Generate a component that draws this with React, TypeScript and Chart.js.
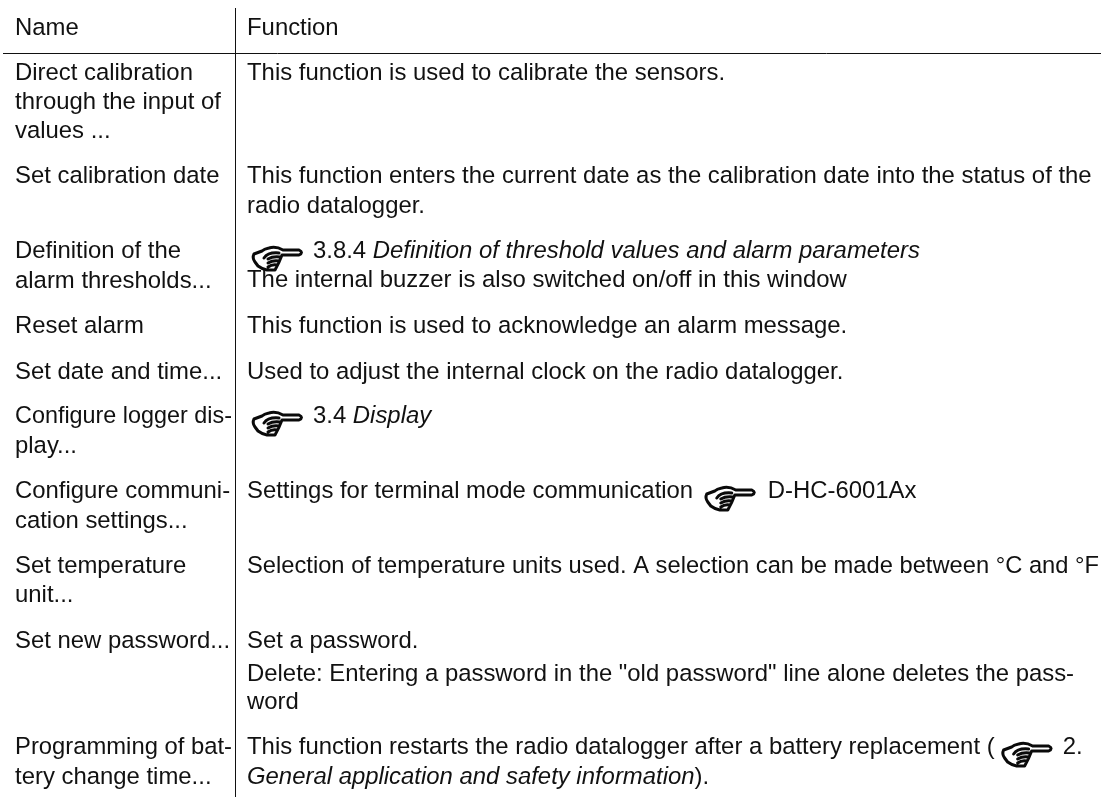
import React, { useEffect, useRef } from "react";
import { Chart, registerables, Plugin } from "chart.js";

Chart.register(...registerables);

type Run = { t?: string; i?: boolean; hand?: boolean };

const headerName = "Name";
const headerFunction = "Function";

const nameCells: string[][] = [
  ["Direct calibration", "through the input of", "values ..."],
  ["Set calibration date"],
  ["Definition of the", "alarm thresholds..."],
  ["Reset alarm"],
  ["Set date and time..."],
  ["Configure logger dis-", "play..."],
  ["Configure communi-", "cation settings..."],
  ["Set temperature", "unit..."],
  ["Set new password..."],
  ["Programming of bat-", "tery change time..."],
];

const functionCells: Run[][][] = [
  [[{ t: "This function is used to calibrate the sensors." }]],
  [
    [{ t: "This function enters the current date as the calibration date into the status of the" }],
    [{ t: "radio datalogger." }],
  ],
  [
    [{ hand: true }, { t: "3.8.4 " }, { t: "Definition of threshold values and alarm parameters", i: true }],
    [{ t: "The internal buzzer is also switched on/off in this window" }],
  ],
  [[{ t: "This function is used to acknowledge an alarm message." }]],
  [[{ t: "Used to adjust the internal clock on the radio datalogger." }]],
  [[{ hand: true }, { t: "3.4 " }, { t: "Display", i: true }]],
  [[{ t: "Settings for terminal mode communication " }, { hand: true }, { t: "D-HC-6001Ax" }]],
  [[{ t: "Selection of temperature units used. A selection can be made between °C and °F" }]],
  [
    [{ t: "Set a password." }],
    [{ t: 'Delete: Entering a password in the "old password" line alone deletes the pass-' }],
    [{ t: "word" }],
  ],
  [
    [{ t: "This function restarts the radio datalogger after a battery replacement (" }, { hand: true }, { t: "2." }],
    [{ t: "General application and safety information", i: true }, { t: ")." }],
  ],
];

const nameBaselines = [
  [80, 109, 138], [183], [258, 288], [333], [379], [423, 453], [498, 528], [573, 602], [648], [754, 784],
];
const functionBaselines = [
  [80], [183, 213], [258, 287], [333], [379], [423], [498], [573], [648, 681, 709], [754, 784],
];

const headerBaseline = 35;
const nameX = 15;
const functionX = 247;
const gridV = [{ x: 235.5, y: 8 }, { x: 235.5, y: 797 }];
const gridH = [{ x: 3, y: 53.5 }, { x: 1101, y: 53.5 }];

const FONT = '"Liberation Sans"';
const SIZE = 23.9;
const NAME_MAX = 217;
const FUNCTION_MAX = 852;

function drawHand(ctx: CanvasRenderingContext2D, x: number, base: number) {
  ctx.save();
  ctx.translate(x, base - 12);
  ctx.strokeStyle = "#0a0a0a";
  ctx.lineWidth = 3;
  ctx.lineCap = "round";
  ctx.lineJoin = "round";
  ctx.beginPath();
  ctx.moveTo(10, 5);
  ctx.lineTo(2, 8);
  ctx.quadraticCurveTo(0, 12, 3, 16);
  ctx.lineTo(6, 20);
  ctx.quadraticCurveTo(10, 23, 15, 24);
  ctx.lineTo(23, 24);
  ctx.quadraticCurveTo(27, 17, 30, 9);
  ctx.lineTo(47, 9);
  ctx.quadraticCurveTo(52, 6.5, 47, 4);
  ctx.lineTo(31, 4);
  ctx.quadraticCurveTo(24, 0, 17, 2);
  ctx.quadraticCurveTo(12, 3, 10, 5);
  ctx.moveTo(12, 12);
  ctx.quadraticCurveTo(16, 6, 27, 7);
  ctx.moveTo(16, 13);
  ctx.quadraticCurveTo(21, 10, 28, 11);
  ctx.moveTo(16, 17);
  ctx.quadraticCurveTo(21, 14, 27, 15);
  ctx.moveTo(16, 21);
  ctx.quadraticCurveTo(20, 18, 25, 19);
  ctx.stroke();
  ctx.restore();
}

const tablePlugin: Plugin = {
  id: "tableText",
  afterDatasetsDraw(chart) {
    const { ctx, scales } = chart;
    const px = (v: number) => scales.x.getPixelForValue(v);
    const py = (v: number) => scales.y.getPixelForValue(v);
    const normal = `${SIZE}px ${FONT}`;
    const italic = `italic ${SIZE}px ${FONT}`;
    ctx.save();
    ctx.fillStyle = "#111";
    ctx.textBaseline = "alphabetic";
    ctx.font = normal;
    ctx.fillText(headerName, px(nameX), py(headerBaseline));
    ctx.fillText(headerFunction, px(functionX), py(headerBaseline));
    nameCells.forEach((lines, r) =>
      lines.forEach((l, i) => ctx.fillText(l, px(nameX), py(nameBaselines[r][i]), NAME_MAX))
    );
    functionCells.forEach((lines, r) =>
      lines.forEach((runs, i) => {
        let x = px(functionX);
        const y = py(functionBaselines[r][i]);
        runs.forEach((run, k) => {
          if (run.hand) {
            const prev = runs[k - 1];
            const lead = !prev || prev.t!.endsWith(" ") ? 5 : 7;
            drawHand(ctx, x + lead, y);
            x += prev ? 68 : 66;
          } else {
            ctx.font = run.i ? italic : normal;
            ctx.fillText(run.t!, x, y, FUNCTION_MAX);
            x += ctx.measureText(run.t!).width;
          }
        });
      })
    );
    ctx.restore();
  },
};

export default function App() {
  const ref = useRef<HTMLCanvasElement>(null);
  useEffect(() => {
    const chart = new Chart(ref.current!, {
      type: "scatter",
      data: {
        datasets: [
          { data: gridV, showLine: true, borderColor: "#111", borderWidth: 1, pointRadius: 0 },
          { data: gridH, showLine: true, borderColor: "#111", borderWidth: 1, pointRadius: 0 },
        ],
      },
      options: {
        animation: false,
        responsive: false,
        layout: { padding: 0 },
        plugins: { legend: { display: false }, tooltip: { enabled: false }, title: { display: false } },
        scales: {
          x: { type: "linear", min: 0, max: 1101, display: false },
          y: { type: "linear", min: 0, max: 798, reverse: true, display: false },
        },
      },
      plugins: [tablePlugin],
    });
    return () => chart.destroy();
  }, []);
  return (
    <canvas
      ref={ref}
      width={1101}
      height={798}
      style={{ position: "absolute", left: 0, top: 0, width: 1101, height: 798 }}
    />
  );
}
